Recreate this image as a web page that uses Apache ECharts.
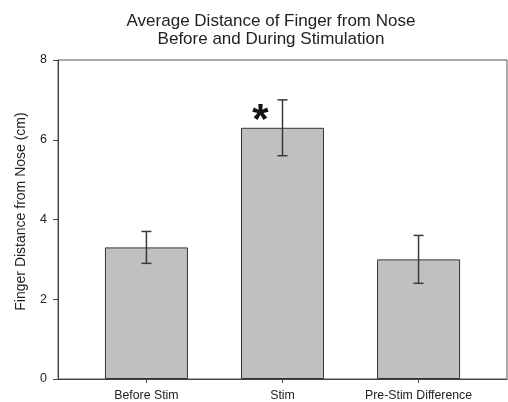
<!DOCTYPE html>
<html>
<head>
<meta charset="utf-8">
<script src="https://cdn.jsdelivr.net/npm/echarts@6/dist/echarts.min.js"></script>
<style>html,body{margin:0;padding:0;background:#fff}#c{width:508px;height:402px}</style>
</head>
<body>
<div id="c"></div>
<script>
const categories = ['Before Stim', 'Stim', 'Pre-Stim Difference'];
const means = [3.3, 6.3, 3.0];
const errors = [0.4, 0.7, 0.6];
const significance = ['', '*', ''];
const yTicks = [0, 2, 4, 6, 8];

const FONT = 'Liberation Sans, Arial, sans-serif';
const chart = echarts.init(document.getElementById('c'));
const barData = means.map((m, i) => [i, m]);
const errData = means.map((m, i) => [i, m - errors[i], m + errors[i]]);

chart.setOption({
  animation: false,
  backgroundColor: '#fff',
  title: {
    text: 'Average Distance of Finger from Nose\nBefore and During Stimulation',
    left: 266, top: 8, textAlign: 'center',
    textStyle: { fontFamily: FONT, fontSize: 17, fontWeight: 'normal', color: '#222', lineHeight: 17.5 }
  },
  grid: { left: 58, right: 1, top: 60, bottom: 23, show: true, borderColor: '#555', borderWidth: 1 },
  xAxis: {
    type: 'value', min: -0.65, max: 2.65,
    splitLine: { show: false },
    axisLine: { show: true, onZero: false, lineStyle: { color: '#444' } },
    axisTick: { show: true, customValues: [0, 1, 2], length: 4, lineStyle: { color: '#444' } },
    axisLabel: {
      customValues: [0, 1, 2], margin: 11,
      formatter: v => categories[Math.round(v)] || '',
      fontFamily: FONT, fontSize: 12.3, color: '#222'
    }
  },
  yAxis: {
    type: 'value', min: yTicks[0], max: yTicks[yTicks.length - 1], interval: 2,
    name: 'Finger Distance from Nose (cm)', nameLocation: 'middle', nameGap: 30,
    nameTextStyle: { fontFamily: FONT, fontSize: 14, color: '#222', padding: [0, 0, 0, 16] },
    splitLine: { show: false },
    axisLine: { show: true, onZero: false, lineStyle: { color: '#444' } },
    axisTick: { show: true, length: 5, lineStyle: { color: '#444' } },
    axisLabel: { margin: 11, fontFamily: FONT, fontSize: 12.5, color: '#222' }
  },
  series: [
    {
      type: 'bar', data: barData, barWidth: 83,
      itemStyle: { color: '#c0c0c0', borderColor: '#333', borderWidth: 1 }
    },
    {
      type: 'custom', data: errData, z: 5,
      renderItem: (params, api) => {
        const x = api.value(0);
        const lo = api.coord([x, api.value(1)]);
        const hi = api.coord([x, api.value(2)]);
        const cap = 5;
        const st = { stroke: '#3a3a3a', lineWidth: 1.5 };
        const children = [
          { type: 'line', shape: { x1: hi[0], y1: hi[1], x2: lo[0], y2: lo[1] }, style: st },
          { type: 'line', shape: { x1: hi[0] - cap, y1: hi[1], x2: hi[0] + cap, y2: hi[1] }, style: st },
          { type: 'line', shape: { x1: lo[0] - cap, y1: lo[1], x2: lo[0] + cap, y2: lo[1] }, style: st }
        ];
        const mark = significance[params.dataIndex];
        if (mark) {
          children.push({
            type: 'text',
            style: {
              text: mark, x: hi[0] - 22, y: hi[1] + 1, align: 'center', verticalAlign: 'top',
              font: 'bold 42px ' + FONT, fill: '#111'
            }
          });
        }
        return { type: 'group', children };
      }
    }
  ]
});
</script>
</body>
</html>
